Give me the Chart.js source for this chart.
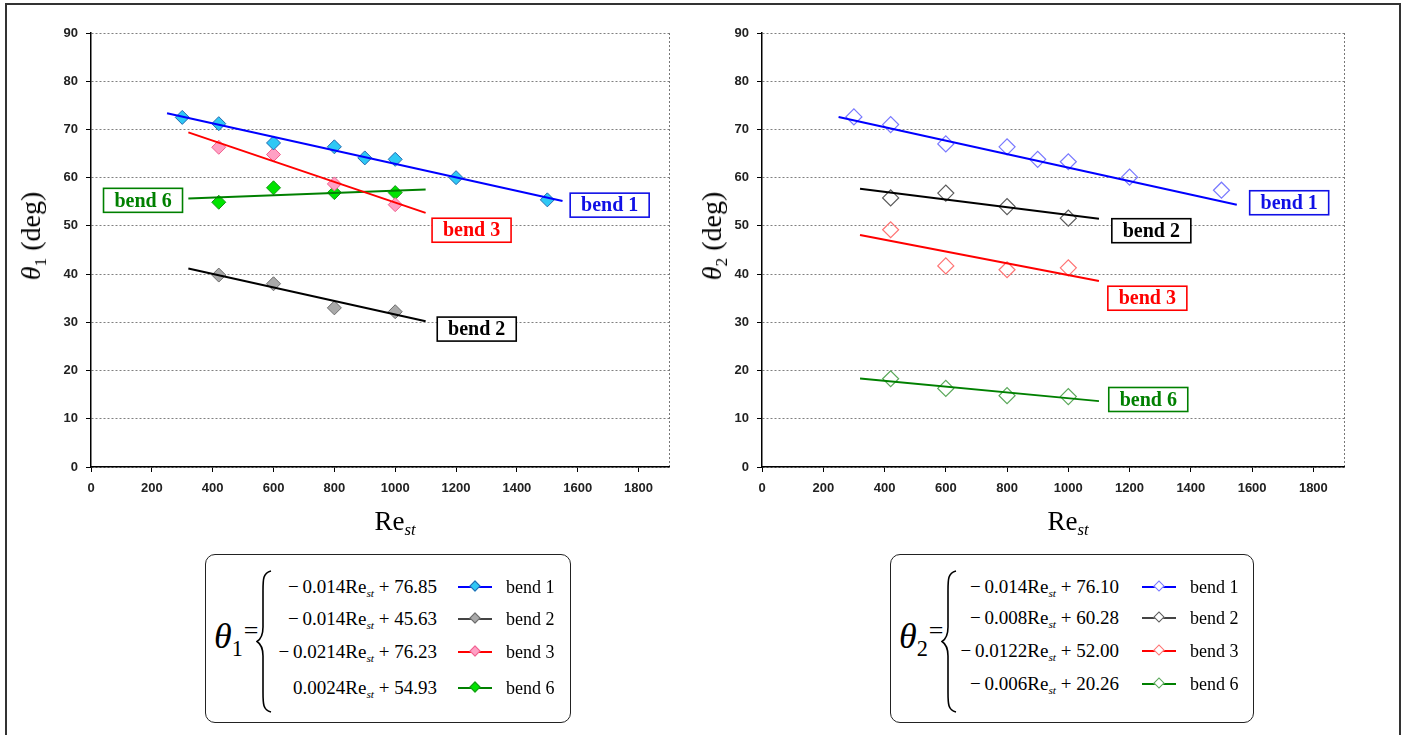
<!DOCTYPE html>
<html>
<head>
<meta charset="utf-8">
<script src="https://cdn.jsdelivr.net/npm/chart.js@4.4.1/dist/chart.umd.min.js"></script>
<style>
  body { margin: 0; background: #fff; width: 1401px; height: 735px; overflow: hidden; position: relative; }
  .frame { position: absolute; left: 5px; top: 3px; width: 1392px; height: 740px; border: 2px solid #333; }
  canvas { position: absolute; top: 0; }
  .serif { font-family: "Liberation Serif", "Times New Roman", serif; color: #000; }
  .ytitle { position: absolute; font-size: 28px; transform: translate(-50%, -50%) rotate(-90deg); white-space: nowrap; }
  .xtitle { position: absolute; font-size: 27px; transform: translate(-50%, -50%); white-space: nowrap; }
  .ytitle i, .xtitle i { font-style: italic; }
  sub { font-size: 62%; vertical-align: -0.35em; line-height: 0; }
  .eq { position: absolute; border: 1.5px solid #222; border-radius: 10px; background: #fff; }
  .lhs { position: absolute; font-size: 36px; white-space: nowrap; }
  .lhs .eqs { font-size: 26px; font-style: normal; vertical-align: 0.35em; margin-left: 1px; }
  .brace { position: absolute; }
  .row { position: absolute; height: 24px; line-height: 24px; white-space: nowrap; }
  .expr { position: absolute; font-size: 19px; text-align: right; }
  .expr sub { font-style: italic; font-size: 60%; }
  .sample { position: absolute; height: 2px; top: 11px; }
  .diam { position: absolute; width: 8px; height: 8px; top: -4px; left: 13px; transform: rotate(45deg); box-sizing: border-box; }
  .name { position: absolute; font-size: 18px; }
</style>
</head>
<body>
<div class="frame"></div>
<canvas id="c1" width="700" height="545" style="left:0"></canvas>
<canvas id="c2" width="701" height="545" style="left:700px"></canvas>

<div class="ytitle serif" style="left:31px; top:236px"><i>θ</i><sub>1</sub> (deg)</div>
<div class="ytitle serif" style="left:712px; top:236px"><i>θ</i><sub>2</sub> (deg)</div>
<div class="xtitle serif" style="left:395px; top:521px">Re<sub><i>st</i></sub></div>
<div class="xtitle serif" style="left:1068px; top:521px">Re<sub><i>st</i></sub></div>

<div id="eq1" class="eq serif" style="left:205px; top:554px; width:364px; height:167px"></div>
<div id="eq2" class="eq serif" style="left:890px; top:554px; width:362px; height:167px"></div>

<script>
// x values (Re_st)
const xBend1 = [300, 420, 600, 800, 900, 1000, 1200, 1500];
const xBendOther = [420, 600, 800, 1000];
const xTicks = [0, 200, 400, 600, 800, 1000, 1200, 1400, 1600, 1800];
const xMax = 1900;
const yMax = 90;

// theta 1 (left chart)
const theta1Bend1 = [72.5, 71.2, 67.2, 66.4, 64.1, 63.8, 60.0, 55.4];
const theta1Bend2 = [39.8, 38.0, 33.0, 32.2];
const theta1Bend3 = [66.3, 64.8, 58.7, 54.4];
const theta1Bend6 = [54.9, 57.9, 56.9, 56.9];

// theta 2 (right chart)
const theta2Bend1 = [72.6, 71.0, 67.0, 66.4, 63.8, 63.3, 60.1, 57.4];
const theta2Bend2 = [55.8, 56.8, 54.0, 51.6];
const theta2Bend3 = [49.2, 41.7, 40.9, 41.3];
const theta2Bend6 = [18.3, 16.3, 14.8, 14.6];

// linear fits shown in the equation boxes
const bendNames = ['bend 1', 'bend 2', 'bend 3', 'bend 6'];
const slope1 = [-0.014, -0.014, -0.0214, 0.0024];
const icpt1 = [76.85, 45.63, 76.23, 54.93];
const slope2 = [-0.014, -0.008, -0.0122, -0.006];
const icpt2 = [76.10, 60.28, 52.00, 20.26];
const fitRange = [[250, 1550], [320, 1100], [320, 1100], [320, 1100]];

// styling
const lineColors = ['#0000FF', '#000000', '#FF0000', '#008000'];
const fill1 = ['#2EC8F5', '#A9A9A9', '#FFA0C4', '#00E400'];
const edge1 = ['#2468B0', '#6A6A6A', '#F0608F', '#179417'];
const edge2 = ['#7878FF', '#5A5A5A', '#FF7373', '#5AA85A'];
const labelColors = ['#1010E6', '#000000', '#FF0000', '#008000'];
// label box anchors (data coords)
const labelAt1 = [[1705, 54.3], [1268, 28.6], [1251, 49.1], [171, 55.3]];
const labelAt2 = [[1721, 54.8], [1271, 49.0], [1258, 35.0], [1261, 14.0]];
const tickFont = { family: 'Arial, "Liberation Sans", sans-serif', size: 13, weight: 'bold' };

function pts(xs, ys) { return xs.map((x, i) => ({ x: x, y: ys[i] })); }

function fitLine(i, slope, icpt) {
  return fitRange[i].map(x => ({ x: x, y: slope[i] * x + icpt[i] }));
}

function bendLabels(anchors) {
  return {
    id: 'bendLabels',
    afterDatasetsDraw(chart) {
      const ctx = chart.ctx, xs = chart.scales.x, ys = chart.scales.y;
      ctx.save();
      ctx.font = 'bold 20px "Liberation Serif", "Times New Roman", serif';
      ctx.textAlign = 'center';
      ctx.textBaseline = 'middle';
      anchors.forEach((a, i) => {
        const cx = xs.getPixelForValue(a[0]), cy = ys.getPixelForValue(a[1]);
        const w = 79, h = 24;
        ctx.fillStyle = '#fff';
        ctx.fillRect(cx - w / 2, cy - h / 2, w, h);
        ctx.lineWidth = 1.6;
        ctx.strokeStyle = labelColors[i];
        ctx.strokeRect(cx - w / 2, cy - h / 2, w, h);
        ctx.fillStyle = labelColors[i];
        ctx.fillText(bendNames[i], cx, cy + 1);
      });
      ctx.restore();
    }
  };
}

function makeChart(id, series, slope, icpt, hollow, anchors, yAxisW, rightPad) {
  const lines = series.map((s, i) => ({
    type: 'line',
    data: fitLine(i, slope, icpt),
    borderColor: lineColors[i],
    borderWidth: 2,
    pointRadius: 0,
    fill: false
  }));
  const marks = series.map((s, i) => ({
    data: pts(i === 0 ? xBend1 : xBendOther, s),
    showLine: false,
    pointStyle: 'rectRot',
    pointRadius: hollow ? 8 : 7,
    pointBorderWidth: hollow ? 1.2 : 1,
    pointBackgroundColor: hollow ? 'rgba(255,255,255,0)' : fill1[i],
    pointBorderColor: hollow ? edge2[i] : edge1[i]
  }));

  return new Chart(document.getElementById(id), {
    type: 'scatter',
    data: { datasets: lines.concat(marks) },
    options: {
      responsive: false,
      animation: false,
      devicePixelRatio: 1,
      layout: { padding: { top: 33, right: rightPad, left: 0, bottom: 0 } },
      plugins: { legend: { display: false }, tooltip: { enabled: false } },
      scales: {
        x: {
          type: 'linear',
          min: 0,
          max: xMax,
          afterBuildTicks: ax => { ax.ticks = xTicks.concat([xMax]).map(v => ({ value: v })); },
          afterFit: s => { s.height = 78; },
          ticks: {
            autoSkip: false,
            maxRotation: 0,
            padding: 9,
            color: '#222',
            font: tickFont,
            callback: v => (v === xMax ? '' : v)
          },
          grid: {
            color: c => (c.tick && c.tick.value === xMax ? '#777' : 'rgba(0,0,0,0)'),
            tickColor: c => (c.tick && c.tick.value === xMax ? 'rgba(0,0,0,0)' : '#000'),
            tickLength: 5,
            lineWidth: 1
          },
          border: { color: '#000', width: 1.5, dash: [2, 2] }
        },
        y: {
          min: 0,
          max: yMax,
          afterFit: s => { s.width = yAxisW; },
          ticks: {
            stepSize: 10,
            padding: 8,
            color: '#222',
            font: tickFont
          },
          grid: { color: '#808080', lineWidth: 1, tickColor: '#000', tickLength: 5 },
          border: { color: '#000', width: 1.5, dash: [2, 2] }
        }
      }
    },
    plugins: [bendLabels(anchors)]
  });
}

makeChart('c1', [theta1Bend1, theta1Bend2, theta1Bend3, theta1Bend6], slope1, icpt1, false, labelAt1, 91, 31);
makeChart('c2', [theta2Bend1, theta2Bend2, theta2Bend3, theta2Bend6], slope2, icpt2, true, labelAt2, 62, 57);

// equation boxes with legend samples
function fmtSlope(v) { return (v < 0 ? '\u2212\u2009' : '') + String(Math.abs(v)); }

function buildEq(boxId, sym, slope, icpt, hollow, rowsY, exprRight) {
  const box = document.getElementById(boxId);
  let html = '<div class="lhs" style="left:8px; top:60px"><i>θ</i><sub style="font-size:62%">' + sym +
    '</sub><span class="eqs">=</span></div>';
  html += '<svg class="brace" style="left:50px; top:14px" width="18" height="145" viewBox="0 0 18 145">' +
    '<path d="M15 2 C7 4 7 10 7 22 L7 58 C7 66 5 70 1 72.5 C5 75 7 79 7 87 L7 123 C7 135 7 141 15 143" ' +
    'fill="none" stroke="#000" stroke-width="1.6"/></svg>';
  slope.forEach((s, i) => {
    const top = rowsY[i] - 12;
    const txt = fmtSlope(s) + 'Re<sub>st</sub> + ' + icpt[i].toFixed(2);
    const dia = hollow
      ? 'background:#fff; border:1px solid ' + edge2[i]
      : 'background:' + fill1[i] + '; border:1px solid ' + edge1[i];
    html += '<div class="row" style="left:0; top:' + top + 'px; width:100%">' +
      '<span class="expr" style="right:' + (364 - exprRight) + 'px">' + txt + '</span>' +
      '<span class="sample" style="left:' + (exprRight + 21) + 'px; width:34px; background:' +
      (i === 1 ? '#444' : lineColors[i]) + '"><span class="diam" style="' + dia + '"></span></span>' +
      '<span class="name" style="left:' + (exprRight + 69) + 'px">' + bendNames[i] + '</span></div>';
  });
  box.innerHTML = html;
}

buildEq('eq1', '1', slope1, icpt1, false, [32, 64, 97, 133], 231);
buildEq('eq2', '2', slope2, icpt2, true, [32, 63, 96, 129], 230);
</script>
</body>
</html>
